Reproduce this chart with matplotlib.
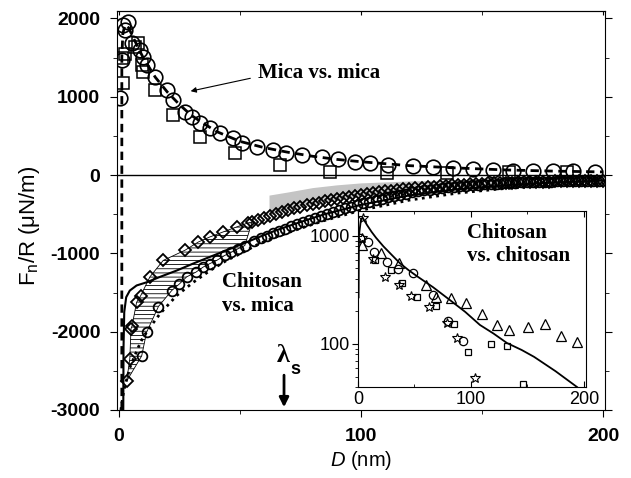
import numpy as np
import matplotlib
matplotlib.use('Agg')
import matplotlib.pyplot as plt

plt.rcParams['font.family'] = ['Liberation Sans', 'DejaVu Sans']
plt.rcParams['mathtext.fontset'] = 'custom'
plt.rcParams['mathtext.rm'] = 'Liberation Sans'
plt.rcParams['mathtext.it'] = 'Liberation Sans:italic'
plt.rcParams['mathtext.bf'] = 'Liberation Sans:bold'
plt.rcParams['hatch.linewidth'] = 0.6
plt.rcParams['axes.unicode_minus'] = False

# ---- mica vs mica ----
mm_circ_x = [0.4, 1.2, 1.7, 2.5, 3.7, 5.3, 8.7, 10, 11.6, 14.9, 19.8, 22.3, 27.3, 30, 33.5,
             37.6, 41.7, 47, 51, 57, 63.6, 69, 75.5, 83.8, 90.6, 97.5, 103.7, 111.3, 121.6,
             129.9, 138.1, 146.4, 154.7, 162.9, 171.2, 179.5, 187.7, 196.7]
mm_circ_y = [990, 1470, 1920, 1850, 1950, 1690, 1600, 1510, 1410, 1256, 1090, 960, 810, 745, 667,
             600, 540, 474, 410, 360, 320, 280, 256, 235, 201, 171, 150, 128, 120,
             107, 86, 73, 64, 55, 55, 51, 51, 43]
mm_sq_x = [1.2, 1.6, 2.5, 6.6, 8.0, 9.5, 10, 15, 22.3, 33.5, 48, 66.5, 87, 110.7, 135.5, 161, 185]
mm_sq_y = [1500, 1180, 1540, 1630, 1690, 1410, 1320, 1090, 770, 490, 280, 128, 38, 26, 26, 38, 38]
mm_fit_x = [1.2, 1.2, 1.6, 2.5, 4, 6, 10, 15, 20, 25, 30, 40, 50, 60, 70, 80, 90, 100,
            120, 140, 160, 180, 200]
mm_fit_y = [-3000, 1500, 1800, 1920, 1880, 1750, 1500, 1250, 1060, 900, 760, 560, 430, 350,
            290, 240, 200, 170, 120, 90, 65, 50, 40]

# ---- chitosan vs mica ----
cm_dia_x = [3.2, 4.5, 5.0, 5.4, 7.3, 9, 12.8, 18.3, 27.3, 32.8, 37.6, 43, 48.6, 53.3,
            55, 57.5, 60, 62.5, 65, 67.5, 70, 72.5, 75, 77.5, 80, 82.5, 85, 87.5, 90, 92.5,
            95, 97.5, 100, 102.5, 105, 107.5, 110, 112.5, 115, 117.5, 120, 122.5, 125,
            127.5, 130, 132.5, 135, 137.5, 140, 142.5, 145, 147.5, 150, 152.5, 155, 157.5,
            160, 162.5, 165, 167.5, 170, 172.5, 175, 177.5, 180, 182.5, 185, 187.5, 190,
            192.5, 195, 197.5, 200]
cm_dia_y = [-2630, -2345, -1960, -1930, -1625, -1540, -1300, -1090, -960, -855, -790, -727,
            -663, -612,
            -600, -575, -548, -520, -492, -470, -447, -425, -405, -388, -370, -352, -336,
            -320, -305, -292, -279, -265, -252, -242, -231, -220, -210, -201, -192, -183,
            -175, -168, -161, -154, -148, -142, -136, -130, -125, -121, -117, -113, -110,
            -107, -104, -101, -98, -96, -94, -92, -90, -88, -86, -84, -82, -80, -78, -77,
            -75, -74, -73, -72, -71]
cm_circ_x = [9.4, 11.4, 16.3, 21.8, 25, 28, 31.8, 34.8, 37.6, 40.4, 43.8, 46.5, 49.3, 52,
             56, 58.5, 61, 63.5, 66, 68.5, 71, 73.5, 76, 78.5, 81, 83.5, 86, 88.5, 91, 93.5,
             96, 98.5, 101, 103.5, 106, 108.5, 111, 113.5, 116, 118.5, 121, 123.5, 126,
             128.5, 131, 133.5, 136, 138.5, 141, 143.5, 146, 148.5, 151, 153.5, 156, 158.5,
             161, 163.5, 166, 168.5, 171, 173.5, 176, 178.5, 181, 183.5, 186, 188.5, 191,
             193.5, 196, 198.5]
cm_circ_y = [-2310, -2010, -1680, -1475, -1390, -1300, -1240, -1175, -1130, -1090, -1025,
             -985, -940, -900,
             -845, -810, -775, -745, -715, -685, -655, -625, -597, -570, -545, -520, -495,
             -470, -447, -425, -403, -382, -361, -341, -322, -303, -285, -268, -252, -237,
             -222, -208, -196, -185, -175, -165, -157, -149, -142, -135, -129, -123, -118,
             -113, -109, -105, -101, -98, -95, -92, -89, -87, -85, -83, -81, -79, -77, -76,
             -74, -73, -72, -71]
cm_fit_x = [1.8, 1.9, 2.2, 3, 4.5, 7.3, 11.4, 17, 23.8, 30.7, 37.6, 44.5, 51.4, 58, 65, 75,
            85, 100, 120, 140, 160, 180, 200]
cm_fit_y = [-3000, -2200, -1750, -1560, -1475, -1410, -1370, -1300, -1220, -1130, -1045,
            -960, -875, -790, -705, -600, -500, -380, -260, -180, -130, -95, -70]
cm_dot_x = [0.8, 2, 4.5, 8, 10, 12.8, 17, 23.8, 30.7, 37.6, 44.5, 51.4, 58, 65, 75, 85, 100,
            120, 140, 160, 180, 200]
cm_dot_y = [-3000, -2750, -2460, -2200, -2070, -1945, -1770, -1540, -1370, -1220, -1090,
            -985, -875, -790, -680, -580, -450, -320, -230, -170, -130, -100]
band_x = [62, 70, 80, 90, 100, 120, 140, 160, 180, 200]
band_hi = [-256, -215, -160, -125, -100, -75, -62, -50, -40, -30]
band_lo = [-513, -450, -380, -320, -270, -200, -150, -110, -85, -65]
hatch_xmax = 55

# ---- inset: chitosan vs chitosan ----
in_tri_x = [3.9, 20.7, 36.4, 60, 69, 82.8, 96, 109.5, 122.8, 134, 150.9, 166, 180, 194]
in_tri_y = [826, 700, 566, 352, 271, 265, 241, 190, 150, 135, 145, 153, 119, 105]
in_circ_x = [1.5, 8.9, 14.2, 26, 35.5, 48.3, 66.7, 80, 93.3]
in_circ_y = [950, 885, 716, 578, 492, 452, 285, 164, 107]
in_sq_x = [14.9, 28.8, 39, 52.6, 69, 85, 97.6, 117.5, 131.7, 146.5]
in_sq_y = [600, 484, 370, 274, 225, 153, 85, 101, 96, 43]
in_star_x = [4.4, 3.5, 13.6, 24, 36.4, 47, 62.7, 78.5, 88, 103.5]
in_star_y = [1460, 950, 608, 420, 352, 278, 219, 157, 113, 48]
in_fit_x = [0.5, 0.8, 2.5, 4, 8, 12, 16, 22.5, 30, 37, 45, 51.8, 66.5, 81.4, 95, 108, 120,
            132, 145, 156, 175, 194]
in_fit_y = [270, 1000, 1400, 1480, 1260, 1090, 960, 800, 665, 560, 480, 427, 335, 255, 198,
            150, 125, 102, 88, 76, 56, 40]

fig = plt.figure(figsize=(6.31, 4.78), dpi=100)
ax = fig.add_axes([0.1854, 0.1423, 0.7734, 0.8347])

ax.fill_between(band_x, band_lo, band_hi, color='#c4c4c4', lw=0, zorder=1)
ax.axhline(0, color='k', lw=1.0, zorder=2)

# hatched region between diamonds and circles
dx = np.array(cm_dia_x); dy = np.array(cm_dia_y)
cx = np.array(cm_circ_x); cy = np.array(cm_circ_y)
m1 = dx <= hatch_xmax
m2 = cx <= hatch_xmax
px = np.concatenate([dx[m1], cx[m2][::-1]])
py = np.concatenate([dy[m1], cy[m2][::-1]])
ax.fill(px, py, facecolor='none', edgecolor='k', hatch='----', lw=0.6, zorder=2)

ax.plot(mm_fit_x, mm_fit_y, color='k', ls=(0, (3, 2)), lw=2.0, zorder=3)
ax.plot(cm_fit_x, cm_fit_y, color='k', lw=1.5, zorder=3)
ax.plot(cm_dot_x, cm_dot_y, color='k', ls=(0, (1, 1.6)), lw=2.0, zorder=3)

ax.plot(mm_circ_x, mm_circ_y, 'o', ms=10.5, mfc='none', mec='k', mew=1.2, zorder=4)
ax.plot(mm_sq_x, mm_sq_y, 's', ms=9, mfc='none', mec='k', mew=1.1, zorder=4)
ax.plot(cm_dia_x, cm_dia_y, 'D', ms=6.5, mfc='none', mec='k', mew=1.3, zorder=4)
ax.plot(cm_circ_x, cm_circ_y, 'o', ms=7, mfc='none', mec='k', mew=1.3, zorder=4)

ax.set_xlim(-0.8, 200.8)
ax.set_ylim(-3000, 2095)
ax.set_xticks([0, 100, 200])
ax.set_xticks([50, 150], minor=True)
ax.set_yticks([-3000, -2000, -1000, 0, 1000, 2000])
ax.set_yticks([-2500, -1500, -500, 500, 1500], minor=True)
ax.tick_params(which='both', direction='out', right=True, labelsize=14)
ax.tick_params(axis='x', which='both', pad=8)
ax.tick_params(axis='y', which='both', pad=7)
ax.tick_params(which='major', length=5)
ax.tick_params(which='minor', length=3)
for lab in ax.get_xticklabels() + ax.get_yticklabels():
    lab.set_fontweight('bold')
top = ax.secondary_xaxis('top')
top.set_xticks([0, 100, 200], labels=[])
top.set_xticks([50, 150], minor=True)
top.tick_params(which='both', direction='in', length=3)

ax.set_xlabel(r'$\mathit{D}$ (nm)', fontsize=14.5, labelpad=3)
ax.set_ylabel(r'F$_\mathrm{n}$/R (μN/m)', fontsize=16)
ax.yaxis.set_label_coords(-0.154, 0.461)

serif = ['Liberation Serif', 'DejaVu Serif']
ax.text(57.4, 1300, 'Mica vs. mica', family=serif, fontweight='bold', fontsize=15,
        va='center', ha='left')
ax.annotate('', xy=(28.5, 1064), xytext=(55.4, 1243),
            arrowprops=dict(arrowstyle='-|>', lw=0.8, color='k', mutation_scale=8))
ax.text(42.5, -1519, 'Chitosan\nvs. mica', family=serif, fontweight='bold', fontsize=15,
        va='center', ha='left', linespacing=1.25)
ax.text(68.0, -2300, 'λ', family=serif, fontweight='bold', fontsize=19, ha='center',
        va='center')
ax.text(73.0, -2480, 's', fontweight='bold', fontsize=13, ha='center', va='center')
ax.annotate('', xy=(68.2, -3000), xytext=(68.2, -2520),
            arrowprops=dict(arrowstyle='-|>', lw=2, color='k', mutation_scale=14))

# inset
ins = fig.add_axes([0.5674, 0.1904, 0.3613, 0.3682])
ins.set_yscale('log')
ins.plot(in_fit_x, in_fit_y, color='k', lw=1.3)
ins.plot(in_tri_x, in_tri_y, '^', ms=6.5, mfc='none', mec='k', mew=0.9)
ins.plot(in_circ_x, in_circ_y, 'o', ms=6, mfc='none', mec='k', mew=0.9)
ins.plot(in_sq_x, in_sq_y, 's', ms=5, mfc='none', mec='k', mew=0.9)
ins.plot(in_star_x, in_star_y, '*', ms=7.5, mfc='none', mec='k', mew=0.8)
ins.set_xlim(0, 202)
ins.set_ylim(40, 1700)
ins.set_xticks([0, 100, 200])
ins.set_xticks([50, 150], minor=True)
ins.set_yticks([100, 1000], labels=['100', '1000'])
ins.tick_params(axis='x', which='both', direction='in', top=True, labelsize=13, pad=3)
ins.tick_params(axis='y', which='both', direction='out', labelsize=13, pad=2)
ins.tick_params(which='major', length=4)
ins.tick_params(which='minor', length=2)
ins.text(0.478, 0.81, 'Chitosan\nvs. chitosan', transform=ins.transAxes, family=serif,
         fontweight='bold', fontsize=15, va='center', ha='left', linespacing=1.15)

fig.savefig('out.png', dpi=100)
